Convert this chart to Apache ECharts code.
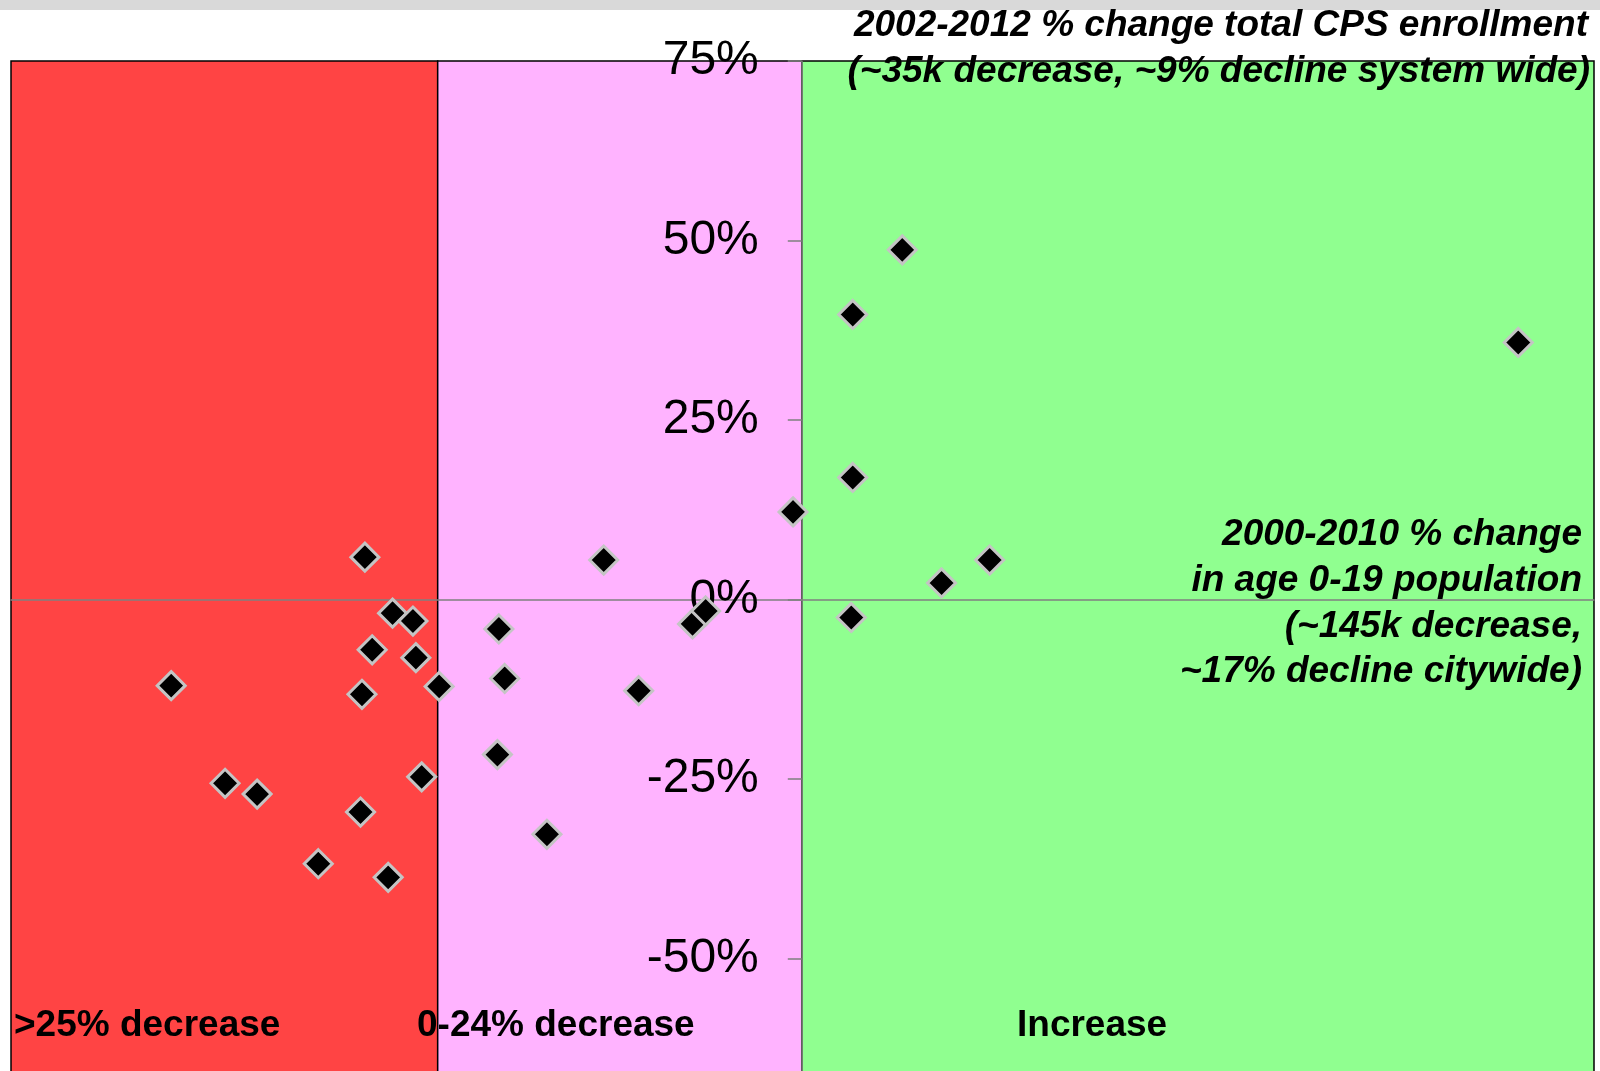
<!DOCTYPE html>
<html>
<head>
<meta charset="utf-8">
<script src="https://cdn.jsdelivr.net/npm/echarts@6/dist/echarts.min.js"></script>
<style>
html, body { margin: 0; padding: 0; background: #fff; }
#chart { width: 1600px; height: 1071px; }
</style>
</head>
<body>
<div id="chart"></div>
<script>
// 2000-2010 % change in age 0-19 population (x) vs 2002-2012 % change in CPS enrollment (y)
var popChange = [-30.0, -28.1, -26.7, -29.5, -26.5, -43.3, -24.9, -30.2, -26.1, -39.6, -37.4, -30.3, -33.2, -28.4,
                 -13.6, -20.8, -20.4, -11.2, -20.9, -17.5, -7.5, -6.6,
                 -0.6, 3.5, 3.4, 9.6, 12.9, 6.9, 3.5, 49.2];
var enrollChange = [5.9, -1.9, -3.0, -7.0, -8.1, -12.0, -12.1, -13.2, -24.7, -25.6, -27.1, -29.6, -36.8, -38.7,
                    5.5, -4.1, -11.0, -12.7, -21.6, -32.7, -3.4, -1.6,
                    12.2, 17.0, -2.5, 2.3, 5.5, 48.7, 39.7, 35.8];

// background bands on the x axis
var bandNames = ['>25% decrease', '0-24% decrease', 'Increase'];
var bandEdges = [-54.3, -25, 0, 54.4];
var bandColors = ['#ff4444', '#ffb3ff', '#90ff90'];

var yTicks = { min: -75, max: 75, step: 25 };

var pts = popChange.map(function (x, i) { return [x, enrollChange[i]]; });

var bands = [];
for (var i = 0; i < bandNames.length; i++) {
  bands.push([
    { xAxis: bandEdges[i], itemStyle: { color: bandColors[i], borderColor: '#000', borderWidth: 1.5 } },
    { xAxis: bandEdges[i + 1] }
  ]);
}

function txt(s, x, y, align, italic) {
  return {
    type: 'text', x: x, y: y, z: 10,
    style: {
      text: s, fill: '#000', align: align, verticalAlign: 'middle',
      fontWeight: 'bold', fontStyle: italic ? 'italic' : 'normal',
      fontSize: 37, fontFamily: '"Liberation Sans", Arial, sans-serif'
    }
  };
}

var gridLeft = 11, gridRight = 6;
// y axis sits on x = 0, so shift it in from the grid's left edge
var xZeroPx = gridLeft + (0 - bandEdges[0]) / (bandEdges[3] - bandEdges[0]) * (1600 - gridLeft - gridRight);

var chart = echarts.init(document.getElementById('chart'));
chart.setOption({
  animation: false,
  backgroundColor: '#fff',
  // plot runs past the bottom of the picture (down to -75%)
  grid: { left: gridLeft, right: gridRight, top: 61, height: 1077, containLabel: false, outerBoundsMode: 'none' },
  xAxis: {
    type: 'value', min: bandEdges[0], max: bandEdges[3], z: 2,
    axisLine: { onZero: true, lineStyle: { color: '#808080', width: 1.5 } },
    axisTick: { show: false }, axisLabel: { show: false }, splitLine: { show: false }
  },
  yAxis: {
    type: 'value', min: yTicks.min, max: yTicks.max, interval: yTicks.step, z: 2,
    position: 'left', offset: -(xZeroPx - gridLeft),
    axisLine: { onZero: false, lineStyle: { color: '#808080', width: 1.5 } },
    axisTick: { show: true, length: 14, lineStyle: { color: '#808080', width: 1.5 } },
    axisLabel: {
      formatter: '{value}%', margin: 43, color: '#000', fontSize: 48,
      fontFamily: '"Liberation Sans", Arial, sans-serif'
    },
    splitLine: { show: false }
  },
  graphic: [
    { type: 'rect', shape: { x: 0, y: 0, width: 1600, height: 10 }, style: { fill: '#d9d9d9' }, z: 10 },
    txt('2002-2012 % change total CPS enrollment', 1588, 26, 'right', true),
    txt('(~35k decrease, ~9% decline system wide)', 1590, 72, 'right', true),
    txt('2000-2010 % change', 1582, 535, 'right', true),
    txt('in age 0-19 population', 1582, 581, 'right', true),
    txt('(~145k decrease,', 1582, 627, 'right', true),
    txt('~17% decline citywide)', 1582, 672, 'right', true),
    txt(bandNames[0], 14, 1026, 'left', false),
    txt(bandNames[1], 417, 1026, 'left', false),
    txt(bandNames[2], 1017, 1026, 'left', false)
  ],
  series: [{
    type: 'scatter',
    z: 3,
    data: pts,
    symbol: 'diamond',
    symbolSize: 28,
    itemStyle: { color: '#000', borderColor: '#c4c4c4', borderWidth: 3, opacity: 1 },
    markArea: { silent: true, z: 1, data: bands }
  }]
});
</script>
</body>
</html>
